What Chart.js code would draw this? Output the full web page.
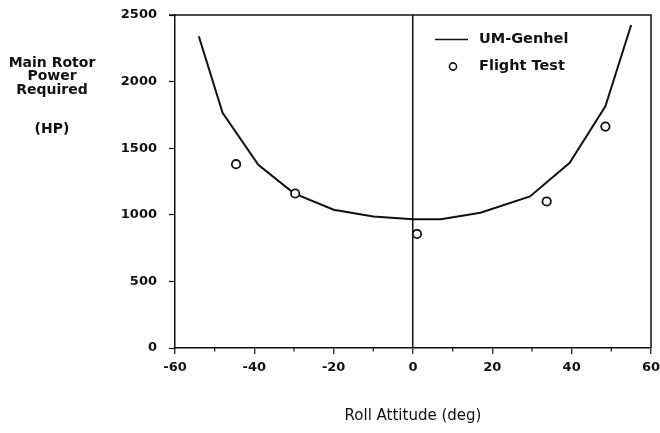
<!DOCTYPE html>
<html>
<head>
<meta charset="utf-8">
<script src="https://cdn.jsdelivr.net/npm/chart.js@4/dist/chart.umd.min.js"></script>
<style>
  html, body { margin: 0; padding: 0; background: #fff; }
  #wrap { width: 660px; height: 433px; }
</style>
</head>
<body>
<div id="wrap"><canvas id="c" width="660" height="433"></canvas></div>
<script>
// UM-Genhel prediction: roll attitude (deg) vs main rotor power (HP)
const modelRoll  = [-54, -48, -39, -30, -20, -10, 0, 7, 17, 29.5, 39.5, 48.5, 55];
const modelPower = [2340, 1765, 1375, 1161, 1038, 988, 966, 966, 1015, 1138, 1390, 1815, 2425];

// Flight test measurements
const testRoll  = [-44.6, -29.7, 1, 33.7, 48.5];
const testPower = [1380, 1160, 856, 1100, 1662];

// Axis tick values
const xTicks = [-60, -50, -40, -30, -20, -10, 0, 10, 20, 30, 40, 50, 60];
const yTicks = [0, 500, 1000, 1500, 2000, 2500];

const yTitleLines = ['Main Rotor', 'Power', 'Required', '', '(HP)'];
const xTitle = 'Roll Attitude (deg)';
const legendItems = ['UM-Genhel', 'Flight Test'];

const INK = '#111';
const tickFont = { family: 'DejaVu Sans', size: 13, weight: 'bold' };

// Frame, minor x ticks, y-axis caption and legend
const decorations = {
  id: 'decorations',
  afterDraw(chart) {
    const { ctx, chartArea: a, scales } = chart;
    ctx.save();
    ctx.strokeStyle = INK;
    ctx.lineWidth = 1.5;
    // top and right border
    ctx.beginPath();
    ctx.moveTo(a.left - 6, a.top);
    ctx.lineTo(a.right, a.top);
    ctx.lineTo(a.right, a.bottom);
    ctx.stroke();
    // short ticks at odd tens
    ctx.lineWidth = 1.2;
    xTicks.filter(v => v % 20 !== 0).forEach(v => {
      const px = scales.x.getPixelForValue(v);
      ctx.beginPath();
      ctx.moveTo(px, a.bottom);
      ctx.lineTo(px, a.bottom + 3.5);
      ctx.stroke();
    });
    // y-axis caption, stacked horizontally
    ctx.fillStyle = INK;
    ctx.font = 'bold 14px "DejaVu Sans"';
    ctx.textAlign = 'center';
    ctx.textBaseline = 'middle';
    const ys = [63, 76.5, 90, 110, 129];
    yTitleLines.forEach((t, i) => { if (t) ctx.fillText(t, 52, ys[i]); });
    // legend
    ctx.lineWidth = 1.3;
    ctx.beginPath();
    ctx.moveTo(435, 39.5);
    ctx.lineTo(468, 39.5);
    ctx.stroke();
    ctx.fillStyle = '#fff';
    ctx.lineWidth = 1.6;
    ctx.beginPath();
    ctx.arc(453, 66.5, 3.6, 0, Math.PI * 2);
    ctx.fill();
    ctx.stroke();
    ctx.fillStyle = INK;
    ctx.textAlign = 'left';
    ctx.font = 'bold 14.5px "DejaVu Sans"';
    ctx.fillText(legendItems[0], 479, 39);
    ctx.fillText(legendItems[1], 479, 66.5);
    ctx.restore();
  }
};

new Chart(document.getElementById('c'), {
  type: 'line',
  data: {
    datasets: [
      {
        label: legendItems[1],
        type: 'scatter',
        data: testRoll.map((x, i) => ({ x, y: testPower[i] })),
        showLine: false,
        pointStyle: 'circle',
        pointRadius: 4.2,
        pointBackgroundColor: '#fff',
        pointBorderColor: INK,
        pointBorderWidth: 1.8,
        order: 0
      },
      {
        label: legendItems[0],
        data: modelRoll.map((x, i) => ({ x, y: modelPower[i] })),
        borderColor: INK,
        borderWidth: 2,
        pointRadius: 0,
        tension: 0,
        fill: false,
        order: 1
      }
    ]
  },
  options: {
    responsive: false,
    animation: false,
    devicePixelRatio: 1,
    layout: { padding: { left: 0, right: 9, top: 15, bottom: 0 } },
    plugins: { legend: { display: false }, tooltip: { enabled: false } },
    scales: {
      x: {
        type: 'linear',
        min: -60,
        max: 60,
        afterBuildTicks(s) { s.ticks = xTicks.map(v => ({ value: v })); },
        afterFit(s) { s.height = 85; s.paddingLeft = 0; s.paddingRight = 0; },
        ticks: {
          color: INK,
          font: tickFont,
          padding: 6,
          maxRotation: 0,
          autoSkip: false,
          callback: v => (v % 20 === 0 ? String(v) : '')
        },
        grid: {
          drawOnChartArea: true,
          color: c => (c.tick && c.tick.value === 0 ? INK : 'rgba(0,0,0,0)'),
          lineWidth: 1.5,
          tickColor: c => (c.tick && c.tick.value % 20 === 0 ? INK : 'rgba(0,0,0,0)'),
          tickLength: 6,
          tickWidth: 1.2
        },
        border: { display: true, color: INK, width: 1.5 },
        title: {
          display: true,
          text: xTitle,
          color: INK,
          font: { family: 'DejaVu Sans', size: 15 },
          padding: { top: 0, bottom: 8 }
        }
      },
      y: {
        type: 'linear',
        min: 0,
        max: 2500,
        afterBuildTicks(s) { s.ticks = yTicks.map(v => ({ value: v })); },
        afterFit(s) { s.width = 175; s.paddingTop = 0; s.paddingBottom = 0; },
        ticks: { color: INK, font: tickFont, padding: 12, callback: v => String(v) },
        grid: {
          drawOnChartArea: false,
          tickColor: INK,
          tickLength: 6,
          tickWidth: 1.2
        },
        border: { display: true, color: INK, width: 1.5 }
      }
    }
  },
  plugins: [decorations]
});
</script>
</body>
</html>
